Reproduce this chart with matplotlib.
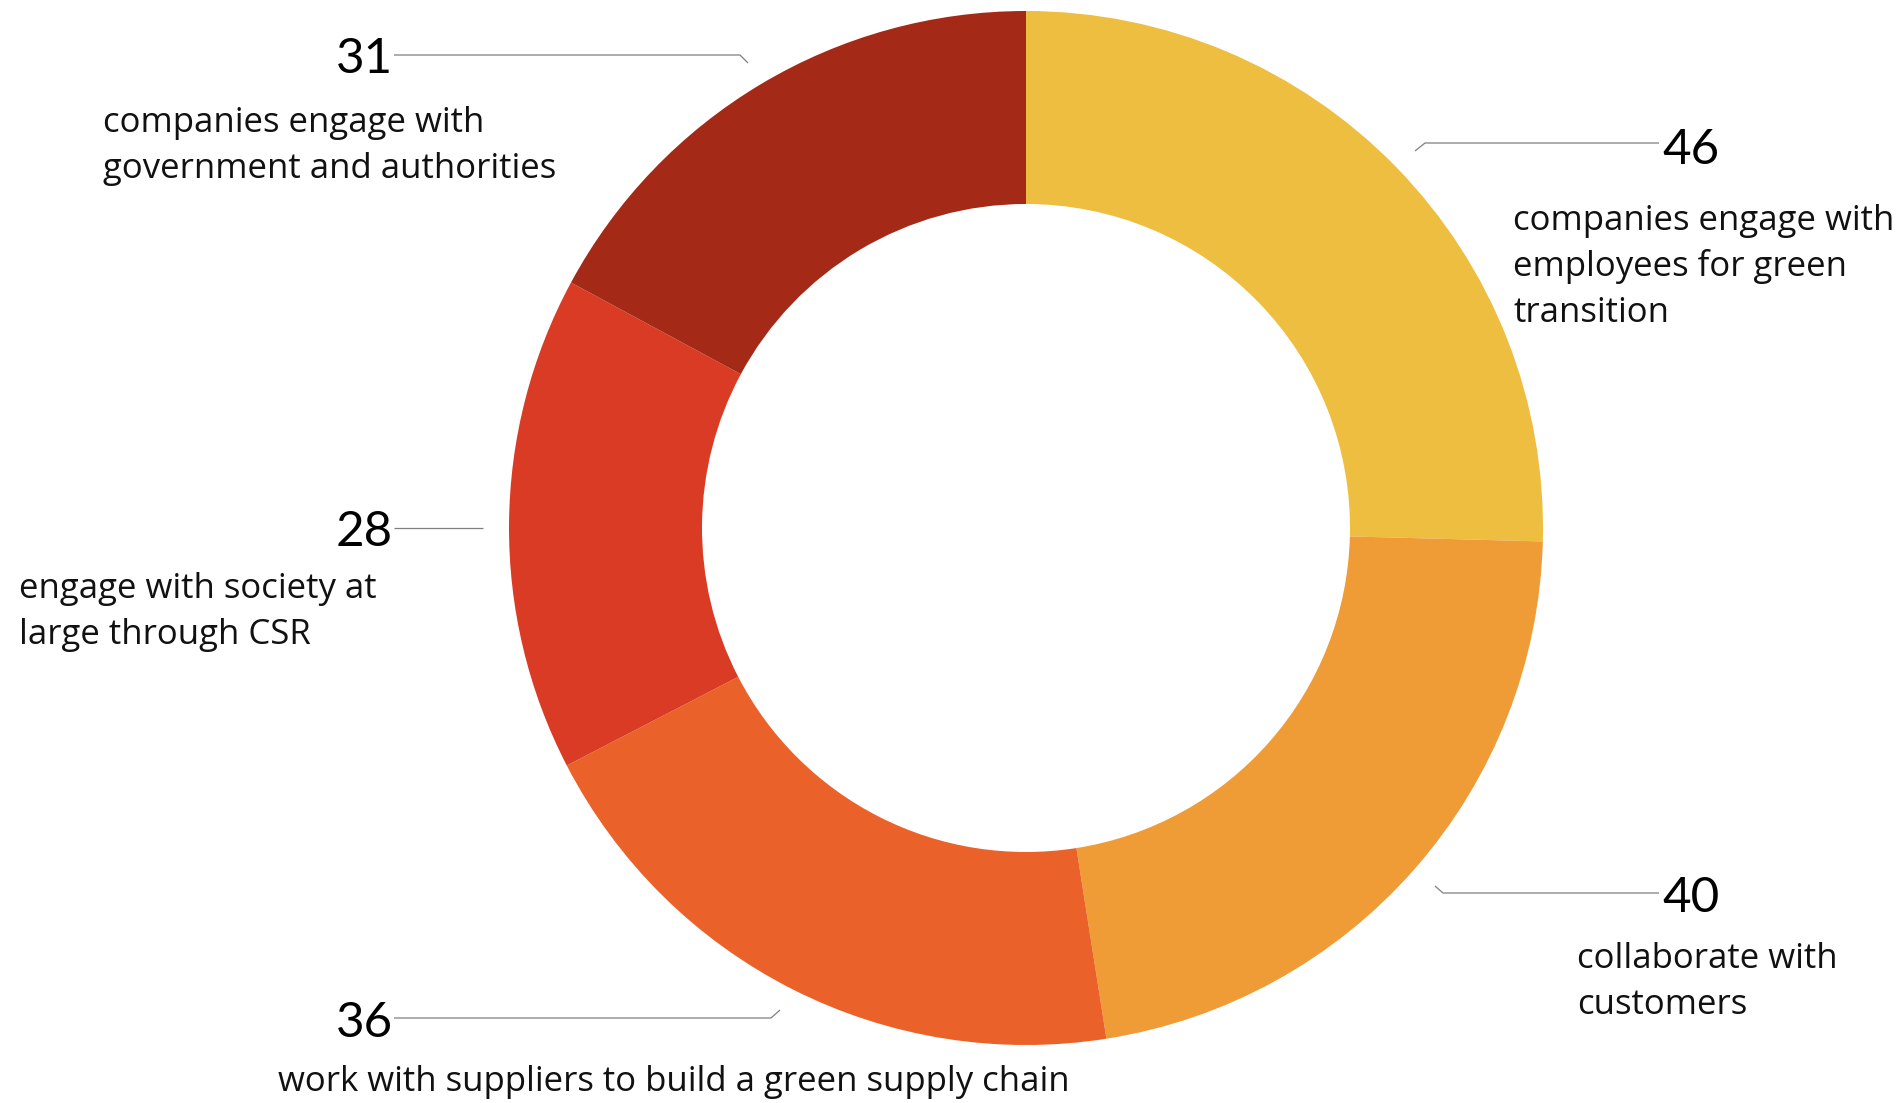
import numpy as np
import matplotlib.pyplot as plt

plt.rcParams['font.family'] = ['Open Sans', 'DejaVu Sans']

# slices, clockwise from 12 o'clock
values = [46, 40, 36, 28, 31]
colors = ['#EEBE41', '#EF9B36', '#EB612A', '#DA3B25', '#A42A17']
descriptions = [
    ['companies engage with', 'employees for green', 'transition'],
    ['collaborate with', 'customers'],
    ['work with suppliers to build a green supply chain'],
    ['engage with society at', 'large through CSR'],
    ['companies engage with', 'government and authorities'],
]

W, H = 1902, 1103
fig = plt.figure(figsize=(W / 100, H / 100), dpi=100)
ax = fig.add_axes([0, 0, 1, 1])

# work in pixel coords, y measured from the top
def Y(y):
    return H - y

cx, cy = 1026, 528
r_out, r_in = 517, 324
ax.pie(values, colors=colors, startangle=90, counterclock=False,
       center=(cx, Y(cy)), radius=r_out,
       wedgeprops=dict(width=r_out - r_in, linewidth=0))

# label layout: number anchor, leader line, text block
# (number x, number baseline, ha, leader points, text x, first baseline)
layout = [
    (1662, 164, 'left', [(1659, 143), (1425, 143), (1415, 151)], 1513, 230),
    (1662, 912, 'left', [(1659, 893), (1443, 893), (1435, 886)], 1577, 968),
    (393, 1037, 'right', [(394, 1018), (771, 1018), (780, 1010)], 278, 1091),
    (393, 546, 'right', [(394, 528), (483, 528)], 19, 598),
    (393, 73, 'right', [(394, 55), (740, 55), (748, 63)], 103, 132),
]
line_gap = 46

for v, desc, (nx, ny, ha, pts, tx, ty) in zip(values, descriptions, layout):
    xs = [p[0] for p in pts]
    ys = [Y(p[1]) for p in pts]
    ax.plot(xs, ys, color='#7F7F7F', lw=0.9, solid_capstyle='butt')
    ax.text(nx, Y(ny), str(v), fontsize=35.5, ha=ha, va='baseline',
            color='black', family=['Lato', 'DejaVu Sans'])
    for i, line in enumerate(desc):
        ax.text(tx, Y(ty + i * line_gap), line, fontsize=25, ha='left',
                va='baseline', color='#111111')

ax.set_xlim(0, W)
ax.set_ylim(0, H)
ax.set_aspect('equal')
ax.axis('off')

fig.savefig('out.png', dpi=100, facecolor='white')
